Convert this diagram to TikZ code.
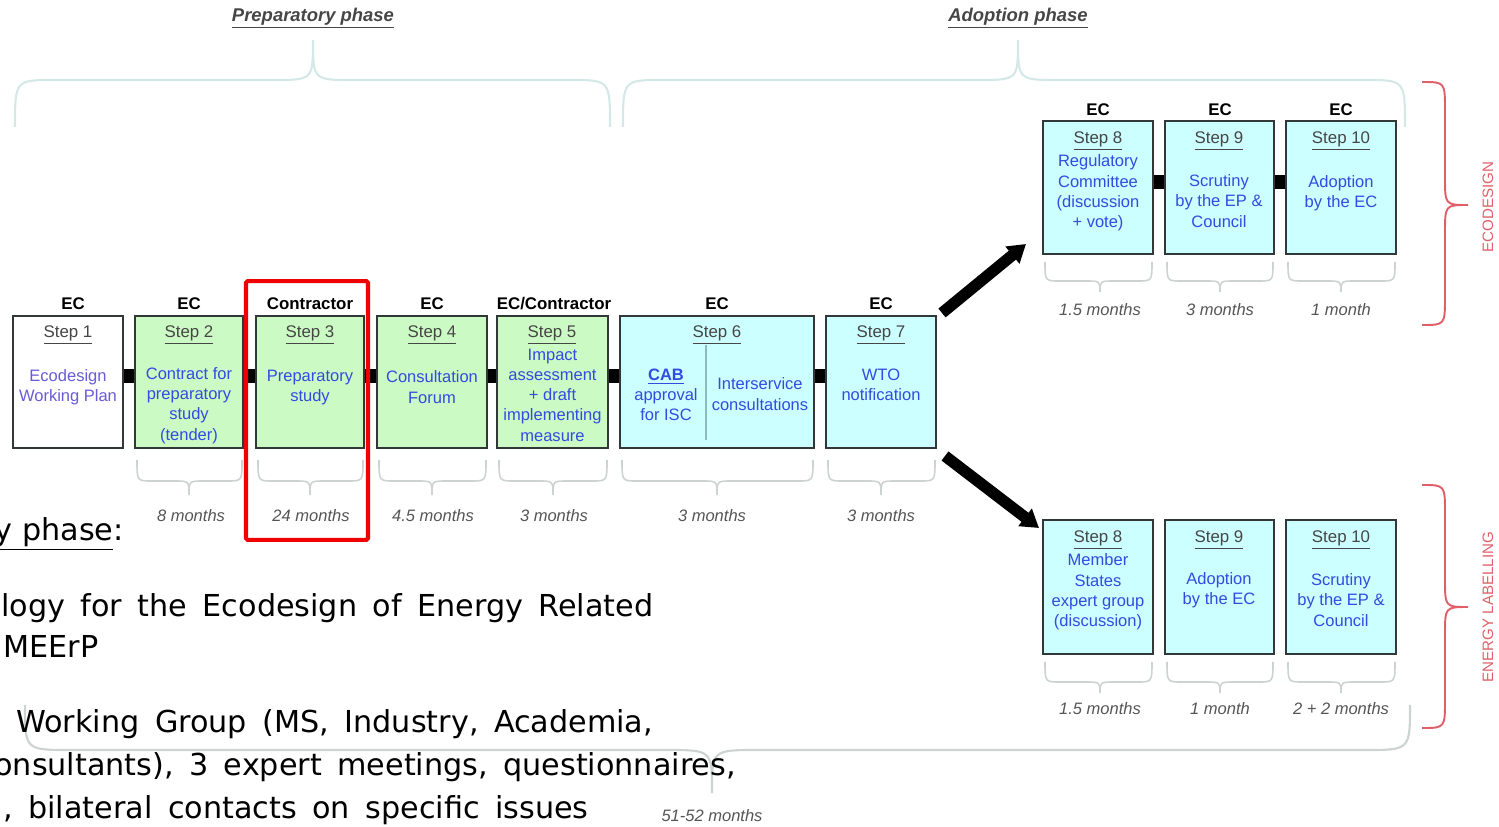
\documentclass[tikz,border=0pt]{standalone}
\usepackage{fontspec}
\setmainfont{Liberation Sans}
\newfontfamily\dvs{DejaVu Sans}
\newcommand\blfont{\dvs\fontsize{17.2}{20}\selectfont\spaceskip=8.8pt\relax}
\newcommand\blplain{\dvs\fontsize{17.2}{20}\selectfont}
\usetikzlibrary{arrows.meta}
\definecolor{boxgreen}{RGB}{204,250,196}
\definecolor{boxcyan}{RGB}{204,255,255}
\definecolor{txtblue}{RGB}{50,75,225}
\definecolor{txtviolet}{RGB}{105,90,215}
\definecolor{stepgrey}{RGB}{70,70,70}
\definecolor{monthgrey}{RGB}{85,85,85}
\definecolor{bracegrey}{RGB}{205,210,210}
\definecolor{phasebrace}{RGB}{212,232,232}
\definecolor{redbrace}{RGB}{225,95,105}
\definecolor{hlred}{RGB}{240,0,0}
\definecolor{boxline}{RGB}{50,55,55}
\definecolor{divline}{RGB}{140,185,185}
\newcommand\hbr[8][]{\draw[#1] (#2,#4) .. controls (#2,#5) .. ({#2+#8},#5) -- ({#7-#8},#5) .. controls (#7,#5) .. (#7,#6) .. controls (#7,#5) .. ({#7+#8},#5) -- ({#3-#8},#5) .. controls (#3,#5) .. (#3,#4);}
\newcommand\vbr[8][]{\draw[#1] (#4,#2) .. controls (#5,#2) .. (#5,{#2+#8}) -- (#5,{#7-#8}) .. controls (#5,#7) .. (#6,#7) .. controls (#5,#7) .. (#5,{#7+#8}) -- (#5,{#3-#8}) .. controls (#5,#3) .. (#4,#3);}
\begin{document}
\begin{tikzpicture}[x=0.02cm,y=-0.02cm,
  box/.style={draw=boxline, line width=1.4pt, inner sep=0pt},
  head/.style={font=\bfseries\fontsize{9.6}{11}\selectfont, inner sep=0pt},
  steplbl/.style={font=\fontsize{9.6}{11}\selectfont, text=stepgrey, inner sep=0pt},
  body/.style={font=\fontsize{9.4}{11.5}\selectfont, text=txtblue, align=center, inner sep=0pt},
  month/.style={font=\itshape\fontsize{9.4}{11}\selectfont, text=monthgrey, inner sep=0pt},
  conn/.style={line width=8pt, black},
  bigarrow/.style={line width=6.5pt, black, -{Triangle[length=10pt,width=12pt]}},
  smallbrace/.style={draw=bracegrey, line width=0.9pt},
  phbrace/.style={draw=phasebrace, line width=1.2pt},
  rbrace/.style={draw=redbrace, line width=1.1pt},
  phase/.style={font=\bfseries\itshape\fontsize{10.5}{12}\selectfont, text=stepgrey, inner sep=0pt},
  side/.style={font=\fontsize{8.6}{10}\selectfont, text=redbrace, rotate=90, inner sep=0pt},
  bl/.style={font=\blfont, anchor=base west, inner sep=0pt}
]
\useasboundingbox (0,0) rectangle (1499,827);

% phase braces
\hbr[phbrace]{15}{610}{127}{80}{40}{313}{40}
\hbr[phbrace]{623}{1405}{127}{80}{40}{1018}{40}
\node[phase] (pp) at (313,18) {\underline{Preparatory phase}};
\node[phase] (ap) at (1018,18) {\underline{Adoption phase}};

% big bottom brace
\hbr[phbrace,draw=bracegrey]{25}{1410}{705}{750}{793}{712}{45}
\node[month] (tot) at (712,816) {51-52 months};

% main row boxes
\node[box, fill=white,    minimum width=2.2cm,  minimum height=2.64cm] (s1) at (68,382) {};
\node[box, fill=boxgreen, minimum width=2.16cm, minimum height=2.64cm] (s2) at (189,382) {};
\node[box, fill=boxgreen, minimum width=2.16cm, minimum height=2.64cm] (s3) at (310,382) {};
\node[box, fill=boxgreen, minimum width=2.2cm,  minimum height=2.64cm] (s4) at (432,382) {};
\node[box, fill=boxgreen, minimum width=2.22cm, minimum height=2.64cm] (s5) at (552.5,382) {};
\node[box, fill=boxcyan,  minimum width=3.88cm, minimum height=2.64cm] (s6) at (717,382) {};
\node[box, fill=boxcyan,  minimum width=2.2cm,  minimum height=2.64cm] (s7) at (881,382) {};

\foreach \a/\b in {s1/s2,s2/s3,s3/s4,s4/s5,s5/s6,s6/s7} \draw[conn] ([yshift=3.4pt]\a.east) -- ([yshift=3.4pt]\b.west);

% headers
\node[head] (h1) at (73,304) {EC};
\node[head] (h2) at (189,304) {EC};
\node[head] (h3) at (310,304) {Contractor};
\node[head] (h4) at (432,304) {EC};
\node[head] (h5) at (554,304) {EC/Contractor};
\node[head] (h6) at (717,304) {EC};
\node[head] (h7) at (881,304) {EC};

% step labels
\node[steplbl] (l1) at (68,335) {\underline{Step 1}};
\node[steplbl] (l2) at (189,335) {\underline{Step 2}};
\node[steplbl] (l3) at (310,335) {\underline{Step 3}};
\node[steplbl] (l4) at (432,335) {\underline{Step 4}};
\node[steplbl] (l5) at (552,335) {\underline{Step 5}};
\node[steplbl] (l6) at (717,335) {\underline{Step 6}};
\node[steplbl] (l7) at (881,335) {\underline{Step 7}};

% bodies
\node[body, text=txtviolet] (b1) at (68,387) {Ecodesign\\Working Plan};
\node[body] (b2) at (189,405.5) {Contract for\\preparatory\\study\\(tender)};
\node[body] (b3) at (310,387.5) {Preparatory\\study};
\node[body] (b4) at (432,387) {Consultation\\Forum};
\node[body] (b5) at (552.5,395) {Impact\\assessment\\+ draft\\implementing\\measure};
\draw[divline, line width=0.7pt] (706,345) -- (706,440);
\node[body] (b6a) at (666,395) {\textbf{\underline{CAB}}\\approval\\for ISC};
\node[body] (b6b) at (760,394) {Interservice\\consultations};
\node[body] (b7) at (881,385) {WTO\\notification};

% small braces and months, main row
\hbr[smallbrace]{137}{242}{460}{481}{495}{189}{15}
\hbr[smallbrace]{258}{363}{460}{481}{495}{310}{15}
\hbr[smallbrace]{379}{486}{460}{481}{495}{432}{15}
\hbr[smallbrace]{499}{607}{460}{481}{495}{553}{15}
\hbr[smallbrace]{622}{813}{460}{481}{495}{717}{15}
\hbr[smallbrace]{828}{935}{460}{481}{495}{881}{15}
\node[month] (m2) at (191,516) {8 months};
\node[month] (m3) at (311,516) {24 months};
\node[month] (m4) at (433,516) {4.5 months};
\node[month] (m5) at (554,516) {3 months};
\node[month] (m6) at (712,516) {3 months};
\node[month] (m7) at (881,516) {3 months};

% highlight
\node[draw=hlred, line width=2.3pt, rounded corners=1pt, minimum width=2.44cm, minimum height=5.18cm, inner sep=0pt] (hl) at (307,410.5) {};

% big arrows
\coordinate (a1s) at (942,313);
\coordinate (a1e) at (1026,244);
\coordinate (a2s) at (945,456);
\coordinate (a2e) at (1039,528);
\draw[bigarrow] (a1s) -- (a1e);
\draw[bigarrow] (a2s) -- (a2e);

% top right (ecodesign)
\node[box, fill=boxcyan, minimum width=2.2cm,  minimum height=2.66cm] (t8) at (1098,187.5) {};
\node[box, fill=boxcyan, minimum width=2.18cm, minimum height=2.66cm] (t9) at (1219.5,187.5) {};
\node[box, fill=boxcyan, minimum width=2.2cm,  minimum height=2.66cm] (t10) at (1341,187.5) {};
\draw[conn] ([yshift=3pt]t8.east) -- ([yshift=3pt]t9.west);
\draw[conn] ([yshift=3pt]t9.east) -- ([yshift=3pt]t10.west);
\node[head] (th8) at (1098,110) {EC};
\node[head] (th9) at (1220,110) {EC};
\node[head] (th10) at (1341,110) {EC};
\node[steplbl] (tl8) at (1098,141) {\underline{Step 8}};
\node[steplbl] (tl9) at (1219,141) {\underline{Step 9}};
\node[steplbl] (tl10) at (1341,141) {\underline{Step 10}};
\node[body] (tb8) at (1098,193) {Regulatory\\Committee\\(discussion\\+ vote)};
\node[body] (tb9) at (1219,201) {Scrutiny\\by the EP \&\\Council};
\node[body] (tb10) at (1341,193) {Adoption\\by the EC};
\hbr[smallbrace]{1045}{1152}{262}{281}{292}{1100}{15}
\hbr[smallbrace]{1167}{1273}{262}{281}{292}{1220}{15}
\hbr[smallbrace]{1288}{1395}{262}{281}{292}{1341}{15}
\node[month] (tm8) at (1100,310) {1.5 months};
\node[month] (tm9) at (1220,310) {3 months};
\node[month] (tm10) at (1341,310) {1 month};

% bottom right (energy labelling)
\node[box, fill=boxcyan, minimum width=2.2cm,  minimum height=2.68cm] (e8) at (1098,587) {};
\node[box, fill=boxcyan, minimum width=2.18cm, minimum height=2.68cm] (e9) at (1219.5,587) {};
\node[box, fill=boxcyan, minimum width=2.2cm,  minimum height=2.68cm] (e10) at (1341,587) {};
\node[steplbl] (el8) at (1098,540) {\underline{Step 8}};
\node[steplbl] (el9) at (1219,540) {\underline{Step 9}};
\node[steplbl] (el10) at (1341,540) {\underline{Step 10}};
\node[body] (eb8) at (1098,592) {Member\\States\\expert group\\(discussion)};
\node[body] (eb9) at (1219,590) {Adoption\\by the EC};
\node[body] (eb10) at (1341,600) {Scrutiny\\by the EP \&\\Council};
\hbr[smallbrace]{1045}{1152}{662}{682}{693}{1100}{15}
\hbr[smallbrace]{1167}{1273}{662}{682}{693}{1220}{15}
\hbr[smallbrace]{1288}{1395}{662}{682}{693}{1341}{15}
\node[month] (em8) at (1100,709) {1.5 months};
\node[month] (em9) at (1220,709) {1 month};
\node[month] (em10) at (1341,709) {2 + 2 months};

% red side braces
\vbr[rbrace]{82}{325}{1422}{1445}{1468}{205}{28}
\vbr[rbrace]{485}{728}{1422}{1445}{1468}{607}{28}
\node[side] (eco) at (1488,207) {ECODESIGN};
\node[side] (enl) at (1488,607) {ENERGY LABELLING};

% bottom-left text
\node[bl, font=\blplain, anchor=base east] (t0) at (124,541) {\underline{y phase}:};
\node[bl] (t1) at (1,617) {logy for the Ecodesign of Energy Related};
\node[bl] (t2) at (3,658) {MEErP};
\node[bl] (t3) at (16,732) {Working Group (MS, Industry, Academia,};
\node[bl] (t4) at (-6,775) {onsultants), 3 expert meetings, questionnaires,};
\node[bl] (t5) at (3,818) {, bilateral contacts on specific issues};
\end{tikzpicture}
\end{document}
